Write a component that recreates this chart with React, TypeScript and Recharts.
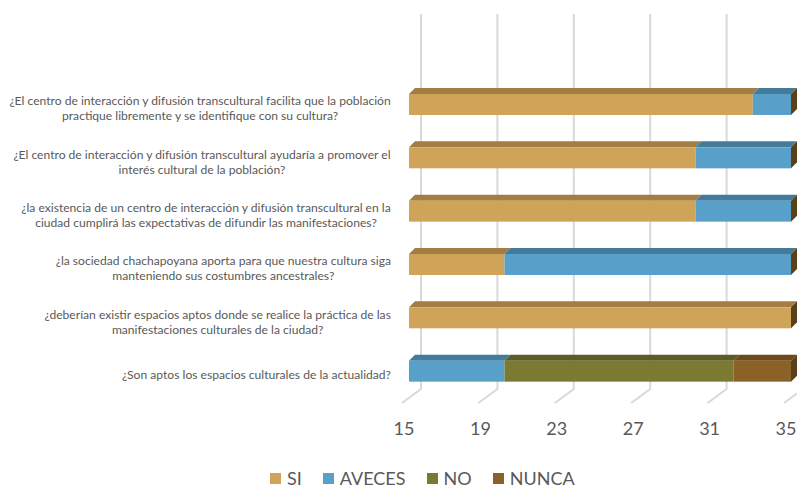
import React from 'react';
import { BarChart, Bar, XAxis, YAxis, CartesianGrid, Legend } from 'recharts';

const categories = [
  '¿El centro de interacción y difusión transcultural facilita que la población\npractique libremente y se identifique con su cultura?',
  '¿El centro de interacción y difusión transcultural ayudaría a promover el\ninterés cultural de la población?',
  '¿la existencia de un centro de interacción y difusión transcultural en la\nciudad cumplirá las expectativas de difundir las manifestaciones?',
  '¿la sociedad chachapoyana aporta para que nuestra cultura siga\nmanteniendo sus costumbres ancestrales?',
  '¿deberían existir espacios aptos donde se realice la práctica de las\nmanifestaciones culturales de la ciudad?',
  '¿Son aptos los espacios culturales de la actualidad?',
];
const siValues = [33, 30, 30, 20, 35, 0];
const avecesValues = [2, 5, 5, 15, 0, 20];
const noValues = [0, 0, 0, 0, 0, 12];
const nuncaValues = [0, 0, 0, 0, 0, 3];
const xTicks = [15, 19, 23, 27, 31, 35];

const seriesKeys = ['SI', 'AVECES', 'NO', 'NUNCA'];
const seriesValues: Record<string, number[]> = {
  SI: siValues,
  AVECES: avecesValues,
  NO: noValues,
  NUNCA: nuncaValues,
};
const seriesFront: Record<string, string> = {
  SI: '#D0A458',
  AVECES: '#589FC9',
  NO: '#7A7A32',
  NUNCA: '#8A6228',
};
const seriesTop: Record<string, string> = {
  SI: '#A37D42',
  AVECES: '#437B98',
  NO: '#5E5C25',
  NUNCA: '#6C4A1C',
};
const SIDE = '#5A4119';
const DEPTH = 6;
const TEXT = '#595959';
const FONT = 'Lato, "Open Sans", sans-serif';
const CAT_FS = 12.1;

const data = categories.map((name, i) => ({
  name,
  SI: siValues[i],
  AVECES: avecesValues[i],
  NO: noValues[i],
  NUNCA: nuncaValues[i],
}));

let ctx: CanvasRenderingContext2D | null = null;
function measure(t: string, fs: number) {
  if (!ctx) ctx = document.createElement('canvas').getContext('2d');
  if (!ctx) return t.length * fs * 0.45;
  ctx.font = `${fs}px Lato`;
  return ctx.measureText(t).width;
}

const makeShape = (key: string) => (props: any) => {
  const { x, y, width, height, background, index } = props;
  const plotLeft = background && typeof background.x === 'number' ? background.x : 409;
  const left = Math.max(x, plotLeft);
  const right = x + width;
  if (!(right - left > 0.5)) return <g />;
  const idx = seriesKeys.indexOf(key);
  const isLast = seriesKeys.slice(idx + 1).every((k) => !seriesValues[k][index]);
  const D = DEPTH;
  return (
    <g>
      <polygon
        points={`${left},${y} ${left + D},${y - D} ${right + D},${y - D} ${right},${y}`}
        fill={seriesTop[key]}
      />
      <rect x={left} y={y} width={right - left} height={height} fill={seriesFront[key]} />
      {isLast && (
        <polygon
          points={`${right},${y} ${right + D},${y - D} ${right + D},${y + height - D} ${right},${y + height}`}
          fill={SIDE}
        />
      )}
    </g>
  );
};

const GridLine = (p: any) => {
  const { x1, y1, y2, index } = p;
  const gx = x1 + 12;
  return (
    <polyline
      key={`g-${index}`}
      points={`${gx},${y1 - 64} ${gx},${y2 - 9} ${x1 - 7},${y2 + 5}`}
      fill="none"
      stroke="#D9D9D9"
      strokeWidth={2}
    />
  );
};

const XTick = (p: any) => {
  const { x, y, payload } = p;
  return (
    <text x={x - 5} y={y + 37} textAnchor="middle" fill={TEXT} fontSize={18} fontFamily={FONT}>
      {payload.value}
    </text>
  );
};

const YTick = (p: any) => {
  const { x, y, payload } = p;
  const lines = String(payload.value).split('\n');
  const blockW = Math.max(...lines.map((l) => measure(l, CAT_FS)));
  const cx = x - blockW / 2;
  const lh = 15;
  const cy = y + 4;
  const start = cy - ((lines.length - 1) * lh) / 2 + 4;
  return (
    <text fill={TEXT} fontSize={CAT_FS} fontFamily={FONT} textAnchor="middle">
      {lines.map((l, i) => (
        <tspan key={i} x={cx} y={start + i * lh}>
          {l}
        </tspan>
      ))}
    </text>
  );
};

const LegendContent = () => (
  <div
    style={{
      width: 797,
      height: 30,
      boxSizing: 'border-box',
      paddingTop: 11,
      paddingLeft: 270,
      display: 'flex',
      alignItems: 'center',
      fontFamily: FONT,
      fontSize: 18,
      color: TEXT,
    }}
  >
    {seriesKeys.map((k) => (
      <div key={k} style={{ display: 'flex', alignItems: 'center', marginRight: 21 }}>
        <span style={{ width: 11, height: 11, background: seriesFront[k], marginRight: 6, display: 'inline-block' }} />
        <span style={{ lineHeight: '19px' }}>{k}</span>
      </div>
    ))}
  </div>
);

export default function App() {
  return (
    <div style={{ position: 'absolute', left: 0, top: 0, background: '#fff' }}>
      <style>{'.recharts-wrapper g[clip-path]{clip-path:none !important;}'}</style>
      <BarChart
        width={797}
        height={488}
        data={data}
        layout="vertical"
        margin={{ top: 78, right: 6, bottom: 0, left: 0 }}
        barSize={21}
      >
        <CartesianGrid horizontal={false} vertical={GridLine} />
        <XAxis
          type="number"
          domain={[15, 35]}
          ticks={xTicks}
          allowDataOverflow
          axisLine={false}
          tickLine={false}
          tickSize={0}
          tickMargin={0}
          tick={XTick}
          interval={0}
          height={60}
        />
        <YAxis
          type="category"
          dataKey="name"
          width={409}
          axisLine={false}
          tickLine={false}
          tickSize={0}
          tickMargin={18}
          tick={YTick}
          interval={0}
        />
        <Legend verticalAlign="bottom" height={30} content={LegendContent} wrapperStyle={{ left: 0, width: 797 }} />
        {seriesKeys.map((k) => (
          <Bar
            key={k}
            dataKey={k}
            stackId="a"
            fill={seriesFront[k]}
            shape={makeShape(k)}
            isAnimationActive={false}
          />
        ))}
      </BarChart>
    </div>
  );
}
